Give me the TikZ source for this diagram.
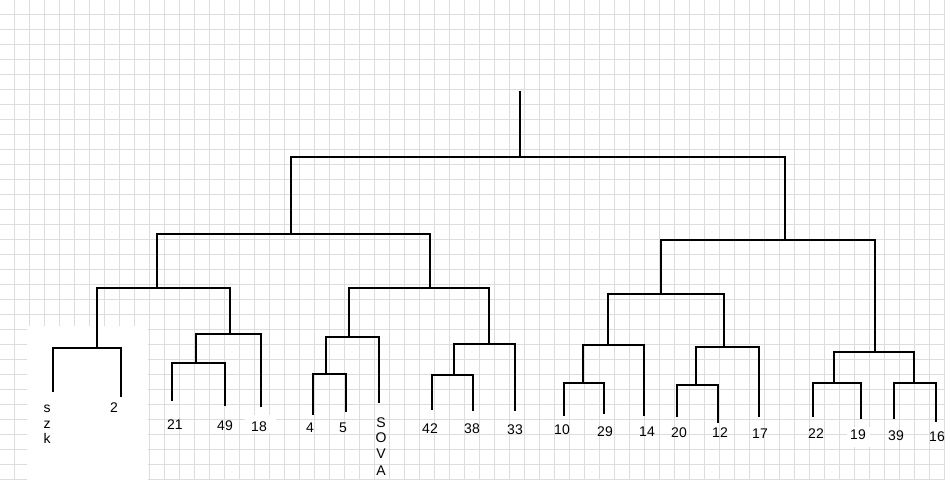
\documentclass[tikz,border=0pt]{standalone}
\usepackage{fontspec}
\newfontfamily\labfont{Liberation Sans}
\definecolor{gridgray}{RGB}{221,221,221}
\begin{document}
\begin{tikzpicture}[x=1pt,y=-1pt,
  gridline/.style={gridgray, line width=1pt},
  tree/.style={black, line width=2.9pt, line join=miter},
  lab/.style={font=\labfont\fontsize{14}{16}\selectfont, inner sep=0pt, anchor=base},
  patch/.style={fill=white}]
\useasboundingbox (0,0) rectangle (950,480);
\fill[white] (0,0) rectangle (950,480);
% grid paper
\foreach \i in {0,...,62} \draw[gridline] ({14+15*\i},0) -- ({14+15*\i},480);
\foreach \j in {0,...,31} \draw[gridline] (0,{14+15*\j}) -- (945,{14+15*\j});
% white patches
\fill[patch] (27,326) rectangle (148,480);
\fill[patch] (245,415) rectangle (276,433);
\fill[patch] (847,427) rectangle (870,447);
% leaf tips
\coordinate (szk) at (53,392);
\coordinate (two) at (121,397);
\coordinate (n21) at (172,401);
\coordinate (n49) at (225,406);
\coordinate (n18) at (261,407);
\coordinate (n4) at (313,415);
\coordinate (n5) at (346,412);
\coordinate (sova) at (379,403);
\coordinate (n42) at (432,410);
\coordinate (n38) at (473,411);
\coordinate (n33) at (515,411);
\coordinate (n10) at (564,416);
\coordinate (n29) at (604,414);
\coordinate (n14) at (644,416);
\coordinate (n20) at (677,417);
\coordinate (n12) at (718,423);
\coordinate (n17) at (759,417);
\coordinate (n22) at (813,417);
\coordinate (n19) at (861,419);
\coordinate (n39) at (894,419);
\coordinate (n16) at (936,422);
% internal junctions (link x, bar y)
\coordinate (A) at (97,348);
\coordinate (B) at (196,363);
\coordinate (C) at (230,334);
\coordinate (D) at (157,288);
\coordinate (E) at (326,374);
\coordinate (F) at (349,337);
\coordinate (G) at (454,375);
\coordinate (H) at (489,344);
\coordinate (I) at (430,288);
\coordinate (J) at (291,234);
\coordinate (K) at (583,383);
\coordinate (L) at (608,345);
\coordinate (M) at (696,385);
\coordinate (N) at (724,347);
\coordinate (O) at (661,294);
\coordinate (P) at (834,383);
\coordinate (Q) at (914,383);
\coordinate (R) at (875,352);
\coordinate (S) at (785,240);
\coordinate (T) at (520,157);
\coordinate (top) at (520,91);
% dendrogram
\draw[tree] (szk) |- (A) -| (two);
\draw[tree] (n21) |- (B) -| (n49);
\draw[tree] (B) |- (C) -| (n18);
\draw[tree] (A) |- (D) -| (C);
\draw[tree] (n4) |- (E) -| (n5);
\draw[tree] (E) |- (F) -| (sova);
\draw[tree] (n42) |- (G) -| (n38);
\draw[tree] (G) |- (H) -| (n33);
\draw[tree] (F) |- (I) -| (H);
\draw[tree] (D) |- (J) -| (I);
\draw[tree] (n10) |- (K) -| (n29);
\draw[tree] (K) |- (L) -| (n14);
\draw[tree] (n20) |- (M) -| (n12);
\draw[tree] (M) |- (N) -| (n17);
\draw[tree] (L) |- (O) -| (N);
\draw[tree] (n22) |- (P) -| (n19);
\draw[tree] (n39) |- (Q) -| (n16);
\draw[tree] (P) |- (R) -| (Q);
\draw[tree] (O) |- (S) -| (R);
\draw[tree] (J) |- (T) -| (S);
\draw[tree] (T) -- (top);
% labels
\node[lab] (l-s) at (47,412) {s};
\node[lab] (l-z) at (47,428) {z};
\node[lab] (l-k) at (47,443) {k};
\node[lab] (l2) at (114,412) {2};
\node[lab] (l21) at (175,429) {21};
\node[lab] (l49) at (225,430) {49};
\node[lab] (l18) at (259,431) {18};
\node[lab] (l4) at (310,432) {4};
\node[lab] (l5) at (343,432) {5};
\node[lab] (l-S) at (381,427) {S};
\node[lab] (l-O) at (381,442) {O};
\node[lab] (l-V) at (381,458) {V};
\node[lab] (l-A) at (381,475) {A};
\node[lab] (l42) at (430,433) {42};
\node[lab] (l38) at (472,433) {38};
\node[lab] (l33) at (515,434) {33};
\node[lab] (l10) at (562,434) {10};
\node[lab] (l29) at (605,436) {29};
\node[lab] (l14) at (647,436) {14};
\node[lab] (l20) at (679,437) {20};
\node[lab] (l12) at (720,437) {12};
\node[lab] (l17) at (760,438) {17};
\node[lab] (l22) at (816,438) {22};
\node[lab] (l19) at (858,439) {19};
\node[lab] (l39) at (896,440) {39};
\node[lab] (l16) at (937,441) {16};
\end{tikzpicture}
\end{document}
